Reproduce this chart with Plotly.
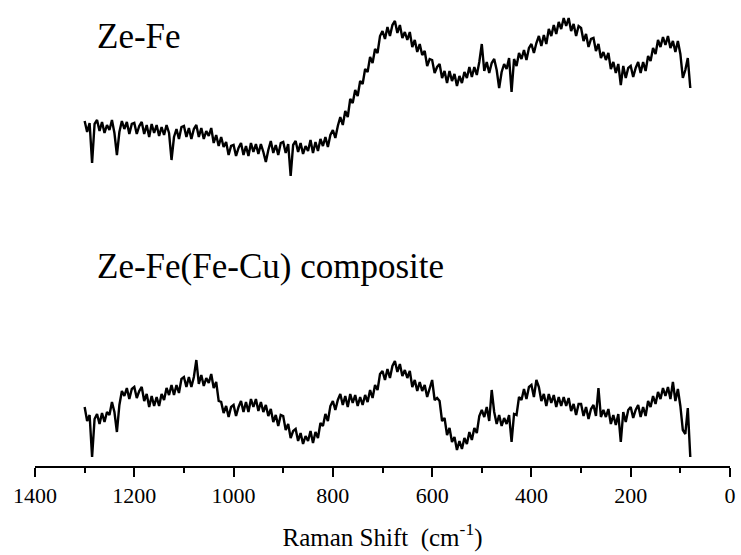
import plotly.graph_objects as go

# Raman shift grid (cm^-1), 1300 down to 80 in steps of 5
wavenumber = list(range(1300, 79, -5))

# Ze-Fe spectrum (arbitrary intensity units, offset stacked)
ze_fe = [
    345, 334, 343, 303, 342, 346, 335, 344, 333, 341,   # 1300-1255
    336, 346, 333, 311, 334, 345, 337, 344, 332, 342,   # 1250-1205
    343, 332, 340, 344, 332, 341, 329, 342, 333, 341,   # 1200-1155
    330, 339, 331, 341, 333, 306, 329, 337, 327, 339,   # 1150-1105
    340, 329, 338, 327, 337, 341, 329, 338, 327, 335,   # 1100-1055
    330, 338, 323, 331, 320, 329, 319, 324, 311, 320,   # 1050-1005
    321, 310, 318, 323, 311, 320, 310, 323, 314, 322,   # 1000-955
    312, 322, 314, 304, 316, 325, 313, 321, 311, 323,   # 950-905
    324, 313, 322, 290, 321, 325, 314, 323, 312, 320,   # 900-855
    315, 326, 313, 324, 315, 327, 320, 329, 319, 331,   # 850-805
    336, 328, 340, 349, 341, 355, 349, 367, 363, 376,   # 800-755
    370, 385, 382, 397, 394, 409, 403, 417, 413, 430,   # 750-705
    435, 427, 439, 430, 441, 445, 433, 441, 428, 434,   # 700-655
    426, 434, 419, 426, 414, 422, 411, 415, 400, 407,   # 650-605
    406, 393, 399, 402, 388, 395, 383, 395, 385, 392,   # 600-555
    380, 390, 383, 394, 388, 399, 389, 399, 391, 404,   # 550-505
    422, 395, 404, 393, 403, 407, 396, 378, 394, 402,   # 500-455
    397, 408, 374, 407, 400, 413, 407, 416, 406, 418,   # 450-405
    422, 413, 423, 430, 420, 431, 422, 437, 430, 441,   # 400-355
    432, 444, 437, 448, 440, 448, 435, 442, 430, 440,   # 350-305
    438, 425, 432, 419, 427, 428, 415, 422, 408, 414,   # 300-255
    406, 413, 397, 404, 393, 402, 381, 400, 388, 398,   # 250-205
    400, 389, 398, 404, 393, 404, 395, 410, 405, 418,   # 200-155
    412, 426, 419, 429, 421, 430, 418, 425, 414, 425,   # 150-105
    412, 388, 396, 408, 378,                            # 100-80
]

# Ze-Fe(Fe-Cu) composite spectrum
ze_fe_cu = [
    59, 45, 51, 9, 47, 52, 42, 53, 44, 54,              # 1300-1255
    51, 64, 54, 34, 61, 75, 70, 78, 67, 77,             # 1250-1205
    79, 68, 75, 79, 65, 72, 59, 70, 60, 69,             # 1200-1155
    60, 72, 66, 78, 71, 81, 71, 81, 73, 87,             # 1150-1105
    89, 79, 89, 79, 89, 106, 82, 91, 80, 88,            # 1100-1055
    83, 92, 78, 84, 65, 64, 53, 60, 49, 59,             # 1050-1005
    61, 50, 59, 65, 54, 64, 54, 67, 59, 67,             # 1000-955
    55, 64, 54, 61, 50, 57, 44, 51, 40, 51,             # 950-905
    50, 36, 42, 28, 35, 37, 25, 33, 22, 30,             # 900-855
    25, 35, 23, 34, 28, 43, 40, 52, 45, 60,             # 850-805
    65, 56, 66, 72, 61, 70, 59, 72, 63, 71,             # 800-755
    60, 69, 61, 71, 64, 76, 68, 81, 76, 92,             # 750-705
    95, 86, 97, 88, 100, 105, 94, 102, 90, 96,          # 700-655
    88, 95, 79, 86, 75, 84, 75, 81, 69, 79,             # 650-605
    86, 66, 68, 65, 45, 48, 31, 38, 24, 29,             # 600-555
    16, 25, 17, 28, 22, 34, 26, 38, 33, 50,             # 550-505
    56, 49, 59, 45, 76, 54, 42, 51, 40, 48,             # 500-455
    42, 51, 24, 52, 51, 69, 66, 77, 67, 79,             # 450-405
    81, 69, 86, 79, 65, 72, 60, 72, 63, 71,             # 400-355
    59, 69, 60, 69, 60, 68, 55, 62, 51, 62,             # 350-305
    62, 50, 59, 47, 57, 61, 50, 78, 49, 56,             # 300-255
    49, 57, 42, 51, 41, 52, 24, 54, 44, 56,             # 250-205
    59, 48, 56, 61, 49, 59, 50, 65, 59, 70,             # 200-155
    62, 74, 67, 78, 70, 79, 67, 84, 65, 77,             # 150-105
    60, 36, 32, 58, 9,                                  # 100-80
]

labels = ["Ze-Fe", "Ze-Fe(Fe-Cu) composite"]
tick_values = [1400, 1200, 1000, 800, 600, 400, 200, 0]

FONT = "'Liberation Serif', 'DejaVu Serif', serif"

fig = go.Figure()
for series in (ze_fe, ze_fe_cu):
    fig.add_trace(go.Scatter(
        x=wavenumber, y=series, mode="lines",
        line=dict(color="black", width=2.4),
        showlegend=False, hoverinfo="skip",
    ))

fig.add_annotation(x=1280, y=430, xref="x", yref="y", text=labels[0],
                   showarrow=False, xanchor="left", yanchor="middle",
                   font=dict(family=FONT, size=35, color="black"))
fig.add_annotation(x=1280, y=200, xref="x", yref="y", text=labels[1],
                   showarrow=False, xanchor="left", yanchor="middle",
                   font=dict(family=FONT, size=35, color="black"))

fig.update_layout(
    width=741, height=555,
    margin=dict(l=35, r=11, t=0, b=89),
    paper_bgcolor="white", plot_bgcolor="white",
    font=dict(family=FONT, color="black"),
    xaxis=dict(
        range=[1400, 0], showgrid=False, zeroline=False,
        showline=True, linecolor="black", linewidth=1.5,
        ticks="outside", ticklen=9, tickwidth=1.5, tickcolor="black",
        tickvals=tick_values, ticktext=[str(v) for v in tick_values],
        tickfont=dict(family=FONT, size=22, color="black"),
        minor=dict(ticks="outside", ticklen=5, tickwidth=1.5,
                   tickcolor="black", dtick=100, showgrid=False),
        title=dict(text="Raman Shift&nbsp; (cm<sup>-1</sup>)",
                   font=dict(family=FONT, size=25, color="black"),
                   standoff=21),
    ),
    yaxis=dict(range=[0, 466], visible=False),
)

fig.write_html("out.html")
